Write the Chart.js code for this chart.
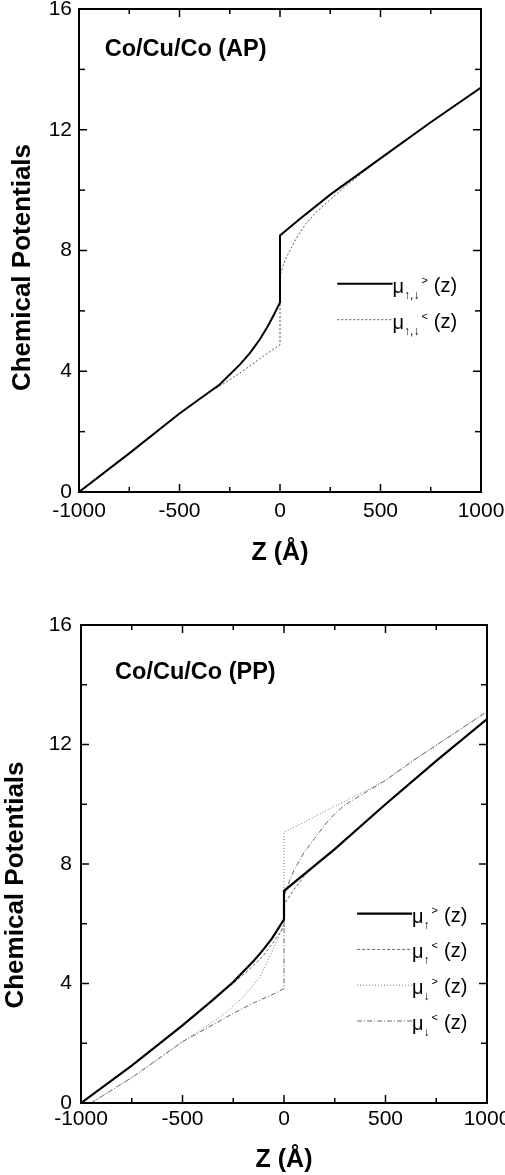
<!DOCTYPE html>
<html>
<head>
<meta charset="utf-8">
<script src="https://cdn.jsdelivr.net/npm/chart.js@4.4.0/dist/chart.umd.min.js"></script>
<style>
  body { margin: 0; background: #fff; }
  #top { position: absolute; left: 0; top: 0; width: 505px; height: 590px; }
  #bottom { position: absolute; left: 0; top: 590px; width: 505px; height: 585px; }
</style>
</head>
<body>
<div id="top"><canvas id="apChart"></canvas></div>
<div id="bottom"><canvas id="ppChart"></canvas></div>
<script>
const FONT = "'Liberation Sans', Arial, Helvetica, sans-serif";
Chart.defaults.font.family = FONT;
Chart.defaults.color = '#000';

// tick labels
const xMajor = [-1000, -500, 0, 500, 1000];
const yMajor = [0, 4, 8, 12, 16];

// Co/Cu/Co (AP)
const apGtZ  = [-1000, -750, -500, -400, -300, -200, -150, -100, -60, -30, -10, 0, 0, 100, 250, 500, 750, 1000];
const apGtMu = [0, 1.28, 2.6, 3.08, 3.56, 4.22, 4.6, 5.06, 5.5, 5.88, 6.14, 6.28, 8.5, 9.05, 9.85, 11.05, 12.25, 13.4];
const apLtZ  = [-1000, -750, -500, -400, -340, -300, -200, -100, 0, 0, 20, 50, 90, 130, 180, 230, 315, 500, 750, 1000];
const apLtMu = [0, 1.28, 2.6, 3.08, 3.36, 3.5, 3.94, 4.42, 4.88, 7.15, 7.6, 8.02, 8.5, 8.9, 9.27, 9.57, 10.07, 11.05, 12.25, 13.4];

// Co/Cu/Co (PP)
const ppUpGtZ  = [-1000, -750, -500, -350, -250, -150, -100, -60, -30, 0, 0, 250, 500, 750, 1000];
const ppUpGtMu = [0, 1.25, 2.6, 3.45, 4.05, 4.75, 5.15, 5.5, 5.82, 6.15, 7.1, 8.5, 10.0, 11.45, 12.85];
const ppUpLtZ  = [-1000, -750, -500, -350, -250, -150, -100, -50, 0, 0, 50, 100, 160, 250, 500, 750, 1000];
const ppUpLtMu = [0, 1.25, 2.6, 3.45, 4.0, 4.6, 4.95, 5.4, 5.9, 6.65, 7.15, 7.6, 8.0, 8.5, 10.0, 11.45, 12.85];
const ppDnGtZ  = [-950, -750, -500, -400, -300, -200, -120, -60, -20, 0, 0, 100, 210, 300, 500, 640, 800, 1000];
const ppDnGtMu = [0, 0.85, 2.05, 2.5, 2.95, 3.55, 4.2, 5.05, 5.65, 6.0, 9.07, 9.4, 9.8, 10.1, 10.8, 11.48, 12.2, 13.1];
const ppDnLtZ  = [-950, -750, -500, -250, -150, -50, 0, 0, 25, 50, 100, 150, 200, 250, 300, 500, 640, 800, 1000];
const ppDnLtMu = [0, 0.85, 2.05, 3.0, 3.35, 3.65, 3.83, 6.9, 7.4, 7.8, 8.4, 8.85, 9.3, 9.68, 9.98, 10.8, 11.48, 12.2, 13.1];

// legend: subscript and superscript of each mu
const apSub = ['↑,↓', '↑,↓'];
const apSup = ['>', '<'];
const ppSub = ['↑', '↑', '↓', '↓'];
const ppSup = ['>', '<', '>', '<'];

function pts(zs, mus) {
  return zs.map((z, i) => ({ x: z, y: mus[i] }));
}

function line(ctx, x0, y0, x1, y1) {
  ctx.beginPath();
  ctx.moveTo(x0, y0);
  ctx.lineTo(x1, y1);
  ctx.stroke();
}

// frame with inward ticks on all sides, y title, panel label and legend
const framePlugin = {
  id: 'frame',
  afterDraw(chart, args, opts) {
    const { ctx, chartArea: a } = chart;
    const x = chart.scales.x, y = chart.scales.y;
    ctx.save();
    ctx.strokeStyle = '#000';
    ctx.lineWidth = 1.5;
    x.ticks.forEach(t => {
      const px = x.getPixelForValue(t.value);
      const len = xMajor.includes(t.value) ? 8 : 5;
      line(ctx, px, a.bottom, px, a.bottom - len);
      line(ctx, px, a.top, px, a.top + len);
    });
    y.ticks.forEach(t => {
      const py = y.getPixelForValue(t.value);
      const len = yMajor.includes(t.value) ? 8 : 6;
      line(ctx, a.left, py, a.left + len, py);
      line(ctx, a.right, py, a.right - len, py);
    });
    ctx.lineWidth = 2;
    ctx.strokeRect(a.left, a.top, a.right - a.left, a.bottom - a.top);

    ctx.fillStyle = '#000';
    // y axis title
    ctx.save();
    ctx.translate(opts.yTitleX, (a.top + a.bottom) / 2 + opts.yTitleShift);
    ctx.rotate(-Math.PI / 2);
    ctx.font = 'bold 26px ' + FONT;
    ctx.textAlign = 'center';
    ctx.textBaseline = 'middle';
    ctx.fillText('Chemical Potentials', 0, 0);
    ctx.restore();

    ctx.font = 'bold 23.5px ' + FONT;
    ctx.textAlign = 'left';
    ctx.textBaseline = 'middle';
    ctx.fillText(opts.panel, x.getPixelForValue(opts.panelX), y.getPixelForValue(opts.panelY));

    opts.sub.forEach((sub, i) => {
      const ds = chart.data.datasets[i];
      const yy = y.getPixelForValue(opts.legendY) + i * opts.legendGap;
      const x0 = x.getPixelForValue(opts.legendX0);
      const x1 = x.getPixelForValue(opts.legendX1);
      ctx.save();
      ctx.strokeStyle = ds.borderColor;
      ctx.lineWidth = ds.borderWidth;
      ctx.setLineDash(ds.borderDash || []);
      line(ctx, x0, yy, x1, yy);
      ctx.restore();
      ctx.textBaseline = 'alphabetic';
      ctx.font = '20px ' + FONT;
      ctx.fillText('μ', x1, yy + 9);
      let cx = x1 + ctx.measureText('μ').width;
      ctx.font = '12px ' + FONT;
      ctx.fillText(sub, cx, yy + 15);
      cx += ctx.measureText(sub).width + 2;
      ctx.font = '11px ' + FONT;
      ctx.fillText(opts.sup[i], cx, yy);
      cx += ctx.measureText(opts.sup[i]).width + 6;
      ctx.font = '20px ' + FONT;
      ctx.fillText('(z)', cx, yy + 8);
    });
    ctx.restore();
  }
};

function makeChart(id, datasets, lay, frame) {
  return new Chart(document.getElementById(id), {
    type: 'line',
    data: { datasets },
    plugins: [framePlugin],
    options: {
      responsive: true,
      maintainAspectRatio: false,
      animation: false,
      layout: { padding: { top: lay.top, right: lay.right, left: 0, bottom: 0 } },
      elements: { point: { radius: 0 }, line: { tension: 0 } },
      plugins: { legend: { display: false }, tooltip: { enabled: false }, frame },
      scales: {
        x: {
          type: 'linear', min: -1000, max: 1000,
          grid: { display: false, drawTicks: false },
          border: { display: false },
          ticks: {
            stepSize: 250, autoSkip: false, maxRotation: 0, padding: lay.xPad,
            font: { size: 21 },
            callback: v => xMajor.includes(v) ? String(v) : ''
          },
          title: {
            display: true, text: 'Z (Å)',
            font: { size: 25, weight: 'bold' },
            padding: { top: 0, bottom: lay.xTitlePad }
          },
          afterFit: s => { s.height = lay.xH; s.paddingLeft = 0; s.paddingRight = 0; }
        },
        y: {
          min: 0, max: 16,
          grid: { display: false, drawTicks: false },
          border: { display: false },
          ticks: {
            stepSize: 2, autoSkip: false, padding: lay.yPad,
            font: { size: 21 },
            callback: v => yMajor.includes(v) ? String(v) : ''
          },
          title: { display: false },
          afterFit: s => { s.width = lay.yW; s.paddingTop = 0; s.paddingBottom = 0; }
        }
      }
    }
  });
}

makeChart('apChart', [
  { data: pts(apGtZ, apGtMu), borderColor: '#000', borderWidth: 2 },
  { data: pts(apLtZ, apLtMu), borderColor: '#555', borderWidth: 1, borderDash: [2, 2] }
], { top: 9, right: 24, xH: 98, yW: 79, xPad: 7, yPad: 7, xTitlePad: 22 },
{
  panel: 'Co/Cu/Co (AP)', panelX: -872, panelY: 14.65,
  yTitleX: 22.5, yTitleShift: 17,
  sub: apSub, sup: apSup,
  legendX0: 285, legendX1: 560, legendY: 6.9, legendGap: 36
});

makeChart('ppChart', [
  { data: pts(ppUpGtZ, ppUpGtMu), borderColor: '#000', borderWidth: 2.2 },
  { data: pts(ppUpLtZ, ppUpLtMu), borderColor: '#666', borderWidth: 1, borderDash: [3, 2] },
  { data: pts(ppDnGtZ, ppDnGtMu), borderColor: '#777', borderWidth: 1, borderDash: [1, 2] },
  { data: pts(ppDnLtZ, ppDnLtMu), borderColor: '#666', borderWidth: 1, borderDash: [5, 2, 1, 2] }
], { top: 35, right: 18, xH: 72, yW: 81, xPad: 4, yPad: 9, xTitlePad: 0 },
{
  panel: 'Co/Cu/Co (PP)', panelX: -832, panelY: 14.4,
  yTitleX: 16, yTitleShift: 21,
  sub: ppSub, sup: ppSup,
  legendX0: 360, legendX1: 631, legendY: 6.34, legendGap: 35.8
});
</script>
</body>
</html>
